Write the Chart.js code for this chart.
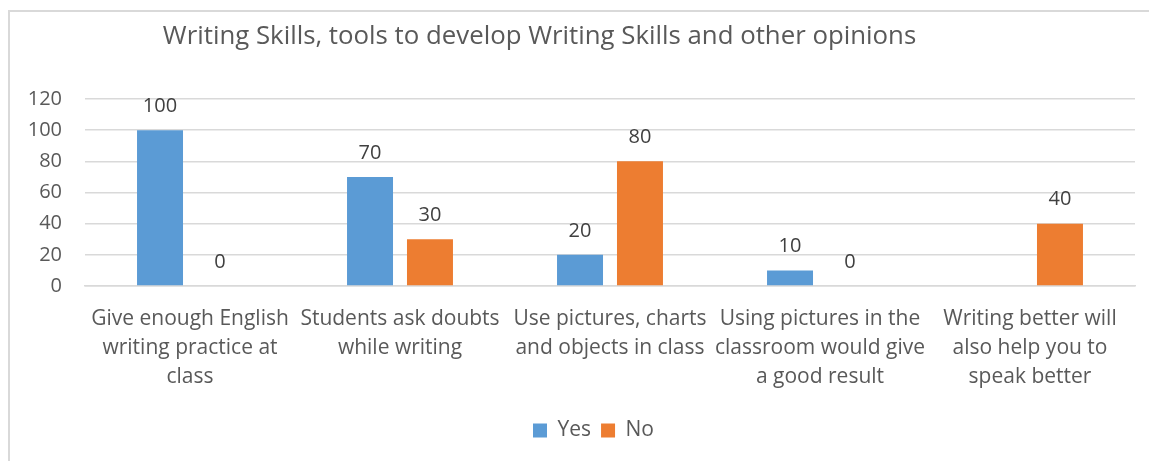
<!DOCTYPE html>
<html>
<head>
<meta charset="utf-8">
<script src="https://cdn.jsdelivr.net/npm/chart.js@4.4.1/dist/chart.umd.min.js"></script>
<style>
html,body{margin:0;padding:0;background:#fff;}
#wrap{position:relative;width:1149px;height:461px;overflow:hidden;}
#frame{position:absolute;left:8px;top:10px;width:1160px;height:470px;border:2px solid #d9d9d9;box-sizing:border-box;}
canvas{position:absolute;left:0;top:0;}
</style>
</head>
<body>
<div id="wrap"><div id="frame"></div><canvas id="c" width="1149" height="461"></canvas></div>
<script>
const titleText = "Writing Skills, tools to develop Writing Skills and other opinions";
const categories = [
  ["Give enough English", "writing practice at", "class"],
  ["Students ask doubts", "while writing"],
  ["Use pictures, charts", "and objects in class"],
  ["Using pictures in the", "classroom would give", "a good result"],
  ["Writing better will", "also help you to", "speak better"]
];
const yesValues = [100, 70, 20, 10, null];
const noValues = [0, 30, 80, 0, 40];
const yTicks = [0, 20, 40, 60, 80, 100, 120];

const FONT = "'Open Sans', 'Liberation Sans', sans-serif";
const TXT = "#595959";

const labelPlugin = {
  id: 'valueLabels',
  afterDatasetsDraw(chart) {
    const ctx = chart.ctx;
    ctx.save();
    ctx.font = "20px " + FONT;
    ctx.fillStyle = "#404040";
    ctx.textAlign = "center";
    ctx.textBaseline = "middle";
    chart.data.datasets.forEach((ds, i) => {
      const meta = chart.getDatasetMeta(i);
      meta.data.forEach((bar, j) => {
        const v = ds.data[j];
        if (v === null || v === undefined) return;
        ctx.fillText(String(v), bar.x, bar.y - 24);
      });
    });
    ctx.restore();
  }
};

const blockShift = {
  id: 'blockShift',
  afterLayout(chart) {
    if (chart.titleBlock) {
      chart.titleBlock.left -= 28;
      chart.titleBlock.right -= 28;
    }
    if (chart.legend) {
      chart.legend.left += 26;
      chart.legend.right += 26;
      if (chart.legend.legendHitBoxes) {
        chart.legend.legendHitBoxes.forEach(b => { b.left += 26; });
      }
    }
  }
};

new Chart(document.getElementById('c'), {
  type: 'bar',
  data: {
    labels: categories,
    datasets: [
      { label: 'Yes', data: yesValues, backgroundColor: '#5B9BD5', categoryPercentage: 0.571, barPercentage: 0.767 },
      { label: 'No', data: noValues, backgroundColor: '#ED7D31', categoryPercentage: 0.571, barPercentage: 0.767 }
    ]
  },
  options: {
    responsive: false,
    animation: false,
    layout: { padding: { left: 0, right: 14, top: 12, bottom: 10 } },
    scales: {
      x: {
        grid: { display: false },
        border: { display: true, color: '#d9d9d9', width: 1.5 },
        ticks: { color: TXT, font: { family: FONT, size: 21, lineHeight: 1.38 }, maxRotation: 0, autoSkip: false, padding: 11 },
        afterFit(scale) { scale.height = 124; }
      },
      y: {
        min: 0, max: 120,
        afterBuildTicks(scale) { scale.ticks = yTicks.map(v => ({ value: v })); },
        grid: { color: '#d9d9d9', lineWidth: 1.5, drawTicks: false },
        border: { display: false },
        ticks: { color: TXT, font: { family: FONT, size: 20 }, padding: 23 },
        afterFit(scale) { scale.width = 85; }
      }
    },
    plugins: {
      title: {
        display: true, text: titleText, color: TXT,
        font: { family: FONT, size: 25.8, weight: 'normal' },
        padding: { top: 9, bottom: 47 }
      },
      legend: {
        position: 'bottom',
        labels: { color: TXT, font: { family: FONT, size: 21 }, boxWidth: 14, boxHeight: 14, padding: 10 }
      },
      tooltip: { enabled: false }
    }
  },
  plugins: [labelPlugin, blockShift]
});
</script>
</body>
</html>
